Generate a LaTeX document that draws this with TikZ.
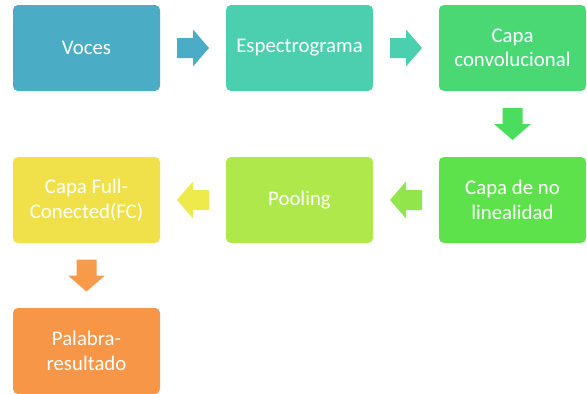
\documentclass[tikz,border=0pt]{standalone}
\usepackage{fontspec}
\setmainfont{Carlito}
\usetikzlibrary{calc}
\definecolor{cA}{HTML}{4BACC6}
\definecolor{cB}{HTML}{4BCFAE}
\definecolor{cC}{HTML}{4AD874}
\definecolor{aC}{HTML}{4BDE5E}
\definecolor{cD}{HTML}{5EE24B}
\definecolor{aD}{HTML}{92E64B}
\definecolor{cE}{HTML}{AEE84B}
\definecolor{aE}{HTML}{EEEA4B}
\definecolor{cF}{HTML}{F0E14B}
\definecolor{aF}{HTML}{F79A4A}
\definecolor{cG}{HTML}{F79646}
\tikzset{
  stage/.style={rectangle, rounded corners=5pt, minimum width=147pt, minimum height=86pt,
    inner sep=0pt, text=white, align=center, font=\fontsize{20.8}{24.5}\selectfont},
  pics/flowarrow/.style={code={
    \fill[#1] (-16,-10) -- (0,-10) -- (0,-18.5) -- (16,0) -- (0,18.5) -- (0,10) -- (-16,10) -- cycle;}}
}
\begin{document}
\begin{tikzpicture}[x=1pt,y=1pt]
\useasboundingbox (0,0) rectangle (587,-394);
\node[stage, fill=cA] (voc) at (86.5,-48) {Voces};
\node[stage, fill=cB] (esp) at (299.5,-48) {Espectrograma};
\node[stage, fill=cC] (conv) at (512.5,-48) {Capa\\convolucional};
\node[stage, fill=cD] (nolin) at (512.5,-200) {Capa de no\\linealidad};
\node[stage, fill=cE] (pool) at (299.5,-200) {Pooling};
\node[stage, fill=cF] (fc) at (86.5,-200) {Capa Full-\\Conected(FC)};
\node[stage, fill=cG] (res) at (86.5,-351) {Palabra-\\resultado};
\coordinate (m1) at ($(voc.east)!0.5!(esp.west)$);
\coordinate (m2) at ($(esp.east)!0.5!(conv.west)$);
\coordinate (m3) at ($(conv.south)!0.5!(nolin.north)$);
\coordinate (m4) at ($(nolin.west)!0.5!(pool.east)$);
\coordinate (m5) at ($(pool.west)!0.5!(fc.east)$);
\coordinate (m6) at ($(fc.south)!0.5!(res.north)$);
\pic at (m1) {flowarrow=cA};
\pic at (m2) {flowarrow=cB};
\pic[rotate=-90] at (m3) {flowarrow=aC};
\pic[rotate=180] at (m4) {flowarrow=aD};
\pic[rotate=180] at (m5) {flowarrow=aE};
\pic[rotate=-90] at (m6) {flowarrow=aF};
\end{tikzpicture}
\end{document}
